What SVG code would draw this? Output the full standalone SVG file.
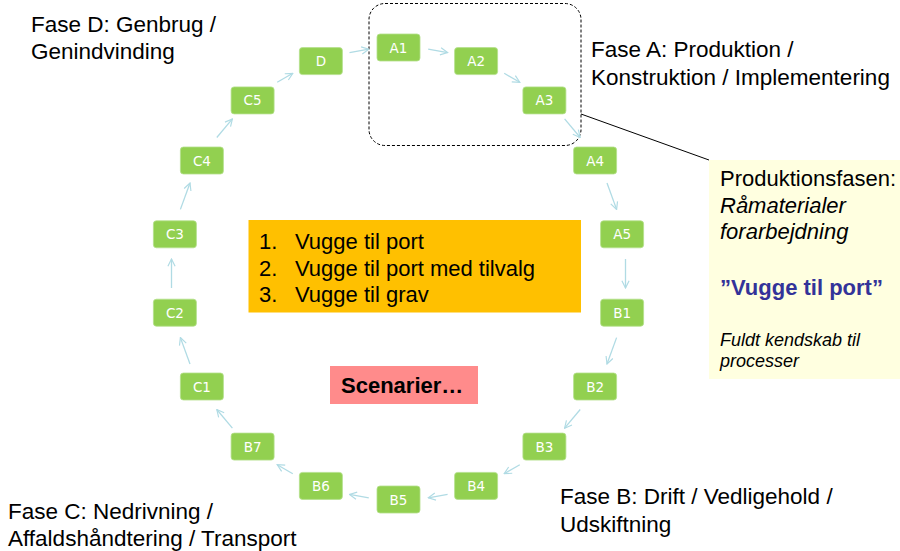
<svg xmlns="http://www.w3.org/2000/svg" width="900" height="551" viewBox="0 0 900 551">
<defs>
<style>
.node rect{fill:#92d050;stroke:#b4df8c;stroke-width:0.8}
.node text{font-family:"DejaVu Sans",Verdana,sans-serif;font-size:13.5px;fill:#ffffff;text-anchor:middle}
.conn line{stroke:#b0dbe4;stroke-width:1.3;fill:none;marker-end:url(#ah)}
.lbl{font-family:"Liberation Sans",Arial,sans-serif;font-size:22px;fill:#000}
.ph{font-size:22.5px}
.it{font-style:italic}
</style>
<marker id="ah" viewBox="0 0 10 10" refX="9" refY="5" markerWidth="9" markerHeight="9" orient="auto" markerUnits="userSpaceOnUse">
<path d="M1,1 L9,5 L1,9" fill="none" stroke="#b0dbe4" stroke-width="1.3"/>
</marker>
</defs>
<rect width="900" height="551" fill="#ffffff"/>

<g id="phase-a-frame">
<rect x="369" y="3.5" width="212" height="142" rx="16" fill="none" stroke="#000" stroke-width="1" stroke-dasharray="3,2"/>
</g>

<g id="connectors" class="conn">
<line x1="428.2" y1="49.2" x2="447.6" y2="52.6"/>
<line x1="504.2" y1="73.3" x2="519.8" y2="82.3"/>
<line x1="564.6" y1="118.9" x2="580.2" y2="137.5"/>
<line x1="607.0" y1="183.0" x2="616.6" y2="209.4"/>
<line x1="625.5" y1="259" x2="625.5" y2="288"/>
<line x1="616.6" y1="337.6" x2="607.0" y2="364.0"/>
<line x1="580.2" y1="409.5" x2="564.6" y2="428.2"/>
<line x1="519.8" y1="464.7" x2="504.2" y2="473.7"/>
<line x1="447.6" y1="494.4" x2="428.3" y2="497.8"/>
<line x1="368.8" y1="497.8" x2="349.5" y2="494.4"/>
<line x1="292.8" y1="473.7" x2="277.2" y2="464.7"/>
<line x1="232.4" y1="428.2" x2="216.8" y2="409.5"/>
<line x1="190.0" y1="364.0" x2="180.4" y2="337.6"/>
<line x1="171.5" y1="288" x2="171.5" y2="259"/>
<line x1="180.4" y1="209.4" x2="190.0" y2="183.0"/>
<line x1="216.8" y1="137.5" x2="232.4" y2="118.9"/>
<line x1="277.2" y1="82.3" x2="292.8" y2="73.3"/>
<line x1="349.5" y1="52.6" x2="368.8" y2="49.2"/>
<line x1="581" y1="114" x2="709" y2="160" style="stroke:#000;stroke-width:1;marker-end:none"/>
</g>

<g id="A1" class="node" transform="translate(398.5,47.5)"><rect x="-21.5" y="-13.5" width="43" height="27" rx="3"/><text y="5">A1</text></g>
<g id="A2" class="node" transform="translate(476.1,61.1)"><rect x="-21.5" y="-13.5" width="43" height="27" rx="3"/><text y="5">A2</text></g>
<g id="A3" class="node" transform="translate(544.4,100.4)"><rect x="-21.5" y="-13.5" width="43" height="27" rx="3"/><text y="5">A3</text></g>
<g id="A4" class="node" transform="translate(595.1,160.5)"><rect x="-21.5" y="-13.5" width="43" height="27" rx="3"/><text y="5">A4</text></g>
<g id="A5" class="node" transform="translate(622.1,234.3)"><rect x="-21.5" y="-13.5" width="43" height="27" rx="3"/><text y="5">A5</text></g>
<g id="B1" class="node" transform="translate(622.1,312.7)"><rect x="-21.5" y="-13.5" width="43" height="27" rx="3"/><text y="5">B1</text></g>
<g id="B2" class="node" transform="translate(595.1,386.5)"><rect x="-21.5" y="-13.5" width="43" height="27" rx="3"/><text y="5">B2</text></g>
<g id="B3" class="node" transform="translate(544.4,446.6)"><rect x="-21.5" y="-13.5" width="43" height="27" rx="3"/><text y="5">B3</text></g>
<g id="B4" class="node" transform="translate(476.1,485.9)"><rect x="-21.5" y="-13.5" width="43" height="27" rx="3"/><text y="5">B4</text></g>
<g id="B5" class="node" transform="translate(398.5,499.5)"><rect x="-21.5" y="-13.5" width="43" height="27" rx="3"/><text y="5">B5</text></g>
<g id="B6" class="node" transform="translate(320.9,485.9)"><rect x="-21.5" y="-13.5" width="43" height="27" rx="3"/><text y="5">B6</text></g>
<g id="B7" class="node" transform="translate(252.6,446.6)"><rect x="-21.5" y="-13.5" width="43" height="27" rx="3"/><text y="5">B7</text></g>
<g id="C1" class="node" transform="translate(201.9,386.5)"><rect x="-21.5" y="-13.5" width="43" height="27" rx="3"/><text y="5">C1</text></g>
<g id="C2" class="node" transform="translate(174.9,312.7)"><rect x="-21.5" y="-13.5" width="43" height="27" rx="3"/><text y="5">C2</text></g>
<g id="C3" class="node" transform="translate(174.9,234.3)"><rect x="-21.5" y="-13.5" width="43" height="27" rx="3"/><text y="5">C3</text></g>
<g id="C4" class="node" transform="translate(201.9,160.5)"><rect x="-21.5" y="-13.5" width="43" height="27" rx="3"/><text y="5">C4</text></g>
<g id="C5" class="node" transform="translate(252.6,100.4)"><rect x="-21.5" y="-13.5" width="43" height="27" rx="3"/><text y="5">C5</text></g>
<g id="D" class="node" transform="translate(320.9,61.1)"><rect x="-21.5" y="-13.5" width="43" height="27" rx="3"/><text y="5">D</text></g>

<g id="scenarios">
<rect x="248.5" y="220" width="332.5" height="92.5" fill="#ffc000"/>
<text class="lbl" x="259" y="249">1.</text><text class="lbl" x="295" y="249">Vugge til port</text>
<text class="lbl" x="259" y="275.5">2.</text><text class="lbl" x="295" y="275.5">Vugge til port med tilvalg</text>
<text class="lbl" x="259" y="302">3.</text><text class="lbl" x="295" y="302">Vugge til grav</text>
</g>

<g id="scenarier">
<rect x="330" y="366" width="148" height="38" fill="#ff8b8b"/>
<text class="lbl" x="341" y="393" font-weight="bold">Scenarier…</text>
</g>

<g id="callout">
<rect x="709" y="160" width="191" height="219" fill="#ffffe0"/>
<text class="lbl" x="720" y="186">Produktionsfasen:</text>
<text class="lbl it" x="720" y="213">Råmaterialer</text>
<text class="lbl it" x="720" y="239">forarbejdning</text>
<text class="lbl" x="720" y="295" font-weight="bold" style="fill:#333399">”Vugge til port”</text>
<text class="lbl it" x="720" y="346" style="font-size:18px">Fuldt kendskab til</text>
<text class="lbl it" x="720" y="367" style="font-size:18px">processer</text>
</g>

<g id="phase-labels">
<text class="lbl ph" x="31" y="31.5">Fase D: Genbrug /</text>
<text class="lbl ph" x="31" y="59">Genindvinding</text>
<text class="lbl ph" x="591" y="57">Fase A: Produktion /</text>
<text class="lbl ph" x="591" y="84.5">Konstruktion / Implementering</text>
<text class="lbl ph" x="560" y="504">Fase B: Drift / Vedligehold /</text>
<text class="lbl ph" x="560" y="531.5">Udskiftning</text>
<text class="lbl ph" x="8" y="519">Fase C: Nedrivning /</text>
<text class="lbl ph" x="8" y="546">Affaldshåndtering / Transport</text>
</g>
</svg>
